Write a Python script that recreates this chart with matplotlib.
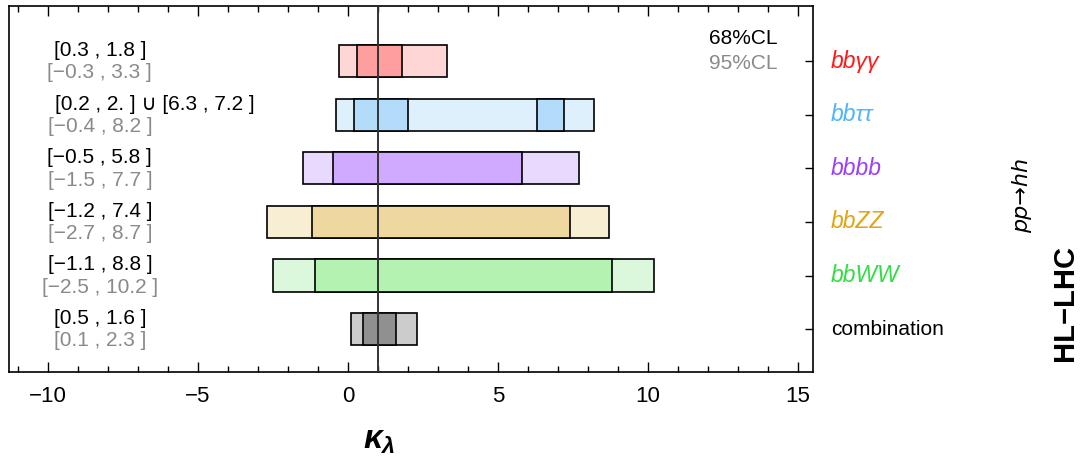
import matplotlib
matplotlib.use("Agg")
import matplotlib.pyplot as plt
from matplotlib.patches import Rectangle
from matplotlib.ticker import MultipleLocator

plt.rcParams['font.family'] = ['Liberation Sans', 'DejaVu Sans']
plt.rcParams['mathtext.fontset'] = 'custom'
plt.rcParams['mathtext.it'] = 'Liberation Sans:bold:italic'
plt.rcParams['mathtext.rm'] = 'Liberation Sans'

# channels, top to bottom
channels = ['bbγγ', 'bbττ', 'bbbb', 'bbZZ', 'bbWW', 'combination']
label_colors = ['#ff1a1a', '#4fb4ff', '#9a40ff', '#e0a516', '#33dd44', 'black']
dark_colors = ['#ff9e9e', '#b3dcfa', '#cfaaff', '#eed8a0', '#b3f2b0', '#909090']
light_colors = ['#ffd6d6', '#dff0fd', '#e8d9ff', '#f8eed4', '#dcf8dc', '#cccccc']

ci68 = [[(0.3, 1.8)],
        [(0.2, 2.0), (6.3, 7.2)],
        [(-0.5, 5.8)],
        [(-1.2, 7.4)],
        [(-1.1, 8.8)],
        [(0.5, 1.6)]]
ci95 = [(-0.3, 3.3), (-0.4, 8.2), (-1.5, 7.7), (-2.7, 8.7), (-2.5, 10.2), (0.1, 2.3)]

text68 = ['[0.3 , 1.8 ]', '[0.2 , 2. ] \u222a [6.3 , 7.2 ]', '[\u22120.5 , 5.8 ]',
          '[\u22121.2 , 7.4 ]', '[\u22121.1 , 8.8 ]', '[0.5 , 1.6 ]']
text95 = ['[\u22120.3 , 3.3 ]', '[\u22120.4 , 8.2 ]', '[\u22121.5 , 7.7 ]',
          '[\u22122.7 , 8.7 ]', '[\u22122.5 , 10.2 ]', '[0.1 , 2.3 ]']

sm_value = 1.0
gray = '#8a8a8a'

fig = plt.figure(figsize=(10.82, 4.61), dpi=100)
ax = fig.add_axes([0.0083, 0.193, 0.7431, 0.794])

h = 0.6
n = len(channels)
for i, name in enumerate(channels):
    y = n - i
    lo, hi = ci95[i]
    ax.add_patch(Rectangle((lo, y - h / 2), hi - lo, h, facecolor=light_colors[i],
                           edgecolor='black', linewidth=1.2, zorder=2))
    for lo68, hi68 in ci68[i]:
        ax.add_patch(Rectangle((lo68, y - h / 2), hi68 - lo68, h, facecolor=dark_colors[i],
                               edgecolor='black', linewidth=1.2, zorder=3))
    # interval texts on the left
    if len(ci68[i]) > 1:
        ax.text(0.057, y + 0.2, text68[i], transform=ax.get_yaxis_transform(),
                ha='left', va='center', fontsize=15, color='black')
    else:
        ax.text(0.113, y + 0.2, text68[i], transform=ax.get_yaxis_transform(),
                ha='center', va='center', fontsize=15, color='black')
    ax.text(0.113, y - 0.22, text95[i], transform=ax.get_yaxis_transform(),
            ha='center', va='center', fontsize=15, color=gray)
    # channel names on the right
    if name == 'combination':
        style, size = 'normal', 15
    else:
        style, size = 'italic', 16.5
    ax.text(1.022, y, name, transform=ax.get_yaxis_transform(), ha='left', va='center',
            fontsize=size, color=label_colors[i], style=style, clip_on=False)

ax.axvline(sm_value, color='#333333', linewidth=1.4, zorder=4)

ax.text(0.956, 0.91, '68%CL', transform=ax.transAxes, ha='right', va='center',
        fontsize=15, color='black')
ax.text(0.956, 0.842, '95%CL', transform=ax.transAxes, ha='right', va='center',
        fontsize=15, color=gray)

ax.set_xlim(-11.3, 15.5)
ax.set_ylim(0.2, 7.03)
ax.xaxis.set_major_locator(MultipleLocator(5))
ax.xaxis.set_minor_locator(MultipleLocator(1))
ax.tick_params(axis='x', which='both', direction='in', top=True, bottom=True,
               labelsize=16, pad=10, width=1)
ax.tick_params(axis='x', which='major', length=7)
ax.tick_params(axis='x', which='minor', length=4)
ax.set_yticks(range(1, n + 1))
ax.yaxis.tick_right()
ax.tick_params(axis='y', which='both', direction='in', length=6, labelright=False, width=1)
for s in ax.spines.values():
    s.set_linewidth(1.2)

ax.set_xlabel(r'$\kappa_{\lambda}$', fontsize=24)
ax.xaxis.set_label_coords(0.46, -0.145)

fig.text(0.945, 0.577, 'pp\u2192hh', rotation=90, ha='center', va='center',
         fontsize=16, style='italic', family=['DejaVu Sans'])
fig.text(0.984, 0.343, 'HL\u2212LHC', rotation=90, ha='center', va='center',
         fontsize=21, fontweight='bold')

fig.savefig('out.png', dpi=100)
